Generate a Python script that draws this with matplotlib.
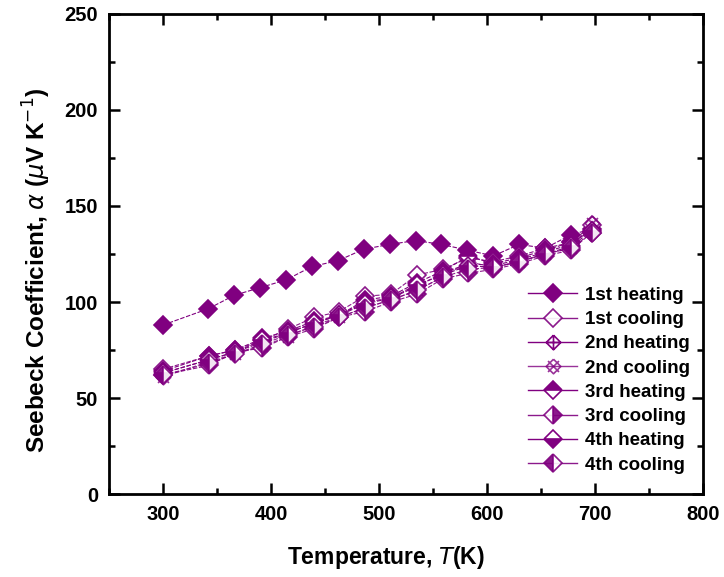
import matplotlib.pyplot as plt
from matplotlib.path import Path
from matplotlib.ticker import MultipleLocator
import numpy as np

plt.rcParams['font.family'] = ['Liberation Sans', 'DejaVu Sans']
plt.rcParams['mathtext.fontset'] = 'dejavusans'

# data
T_h1 = [300, 342, 366, 390, 414, 438, 462, 486, 510, 534, 558, 582, 606, 630, 654, 678, 697]
S_h1 = [88, 96.5, 103.5, 107.5, 111.5, 118.5, 121.5, 127.5, 130, 132, 130, 127, 124, 130, 128, 135, 138]

T_c = [300, 343, 367, 392, 416, 440, 463, 487, 511, 535, 559, 583, 606, 630, 654, 678, 697]
S_c1 = [65, 72, 75, 80, 86, 92, 95, 103, 104, 114, 117, 123, 121, 124, 128, 131, 140]
S_h2 = [63, 70, 74, 79, 84, 89, 93, 100, 102, 108, 115, 120, 119, 122, 126, 130, 138]
S_c2 = [61, 69, 73, 77, 82, 88, 92, 97, 101, 106, 113, 121, 118, 121, 125, 128, 141]
S_h3 = [64, 72, 75, 81, 85, 90, 93, 101, 103, 110, 116, 124, 120, 123, 127, 131, 137]
S_c3 = [62, 67, 74, 76, 82, 86, 92, 95, 100, 104, 112, 115, 117, 120, 124, 127, 136]
S_h4 = [63, 70, 74, 80, 84, 89, 93, 99, 102, 109, 114, 119, 118, 121, 125, 129, 137]
S_c4 = [62, 68, 73, 78, 83, 87, 92, 97, 101, 106, 113, 117, 118, 121, 125, 128, 136]

labels = ['1st heating', '1st cooling', '2nd heating', '2nd cooling',
          '3rd heating', '3rd cooling', '4th heating', '4th cooling']

purple = '#800080'

# diamond with plus inside / with a cross over it
d = [(0, 1), (1, 0), (0, -1), (-1, 0), (0, 1)]
codes = [Path.MOVETO] + [Path.LINETO] * 4 + [Path.MOVETO, Path.LINETO, Path.MOVETO, Path.LINETO]
plus_marker = Path(d + [(0, 1), (0, -1), (-1, 0), (1, 0)], codes)
x_marker = Path(d + [(-0.75, -0.75), (0.75, 0.75), (-0.75, 0.75), (0.75, -0.75)], codes)

fig = plt.figure(figsize=(7.24, 5.77), dpi=100)
ax = fig.add_axes([0.1506, 0.1438, 0.820, 0.832])

ms = 9.5
line_kw = dict(color=purple, lw=0.8, ls=(0, (4, 1.5)), markeredgecolor=purple, markeredgewidth=1.2)

ax.plot(T_h1, S_h1, marker='D', ms=ms, markerfacecolor=purple, label=labels[0], **line_kw)
ax.plot(T_c, S_c1, marker='D', ms=ms, markerfacecolor='white', alpha=0.9, label=labels[1], **line_kw)
ax.plot(T_c, S_h2, marker=plus_marker, ms=ms + 1, markerfacecolor='none', label=labels[2], **line_kw)
ax.plot(T_c, S_c2, marker=x_marker, ms=ms + 1, markerfacecolor='none', alpha=0.8, label=labels[3], **line_kw)
ax.plot(T_c, S_h3, marker='D', ms=ms, fillstyle='top', markerfacecolor=purple,
        markerfacecoloralt='white', label=labels[4], **line_kw)
ax.plot(T_c, S_c3, marker='D', ms=ms, fillstyle='right', markerfacecolor=purple,
        markerfacecoloralt='white', alpha=0.9, label=labels[5], **line_kw)
ax.plot(T_c, S_h4, marker='D', ms=ms, fillstyle='bottom', markerfacecolor=purple,
        markerfacecoloralt='white', label=labels[6], **line_kw)
ax.plot(T_c, S_c4, marker='D', ms=ms, fillstyle='left', markerfacecolor=purple,
        markerfacecoloralt='white', alpha=0.9, label=labels[7], **line_kw)

ax.set_xlim(250, 800)
ax.set_ylim(0, 250)
ax.xaxis.set_major_locator(MultipleLocator(100))
ax.xaxis.set_minor_locator(MultipleLocator(50))
ax.yaxis.set_major_locator(MultipleLocator(50))
ax.yaxis.set_minor_locator(MultipleLocator(25))
ax.tick_params(which='both', direction='in', top=True, right=True, width=1.8,
               labelsize=14.5, pad=8)
ax.tick_params(which='major', length=8)
ax.tick_params(which='minor', length=4)
for lab in ax.get_xticklabels() + ax.get_yticklabels():
    lab.set_fontweight('bold')
for s in ax.spines.values():
    s.set_linewidth(2)

ax.set_xlabel(r'Temperature, $T$(K)', fontsize=16.5, fontweight='bold', labelpad=14)
ax.set_ylabel(r'Seebeck Coefficient, $\alpha$ ($\mu$V K$^{-1}$)', fontsize=17.5,
              fontweight='bold', labelpad=12)
ax.xaxis.set_label_coords(0.466, -0.105)
ax.yaxis.set_label_coords(-0.094, 0.467)

leg = ax.legend(loc='lower right', bbox_to_anchor=(1.0, 0.015), frameon=False,
                prop={'weight': 'bold', 'size': 13.5}, handlelength=2.6,
                labelspacing=0.38, handletextpad=0.4, borderaxespad=0.3)
for ln in leg.get_lines():
    ln.set_linestyle('-')
    ln.set_linewidth(1.0)

plt.savefig('out.png', dpi=100)
